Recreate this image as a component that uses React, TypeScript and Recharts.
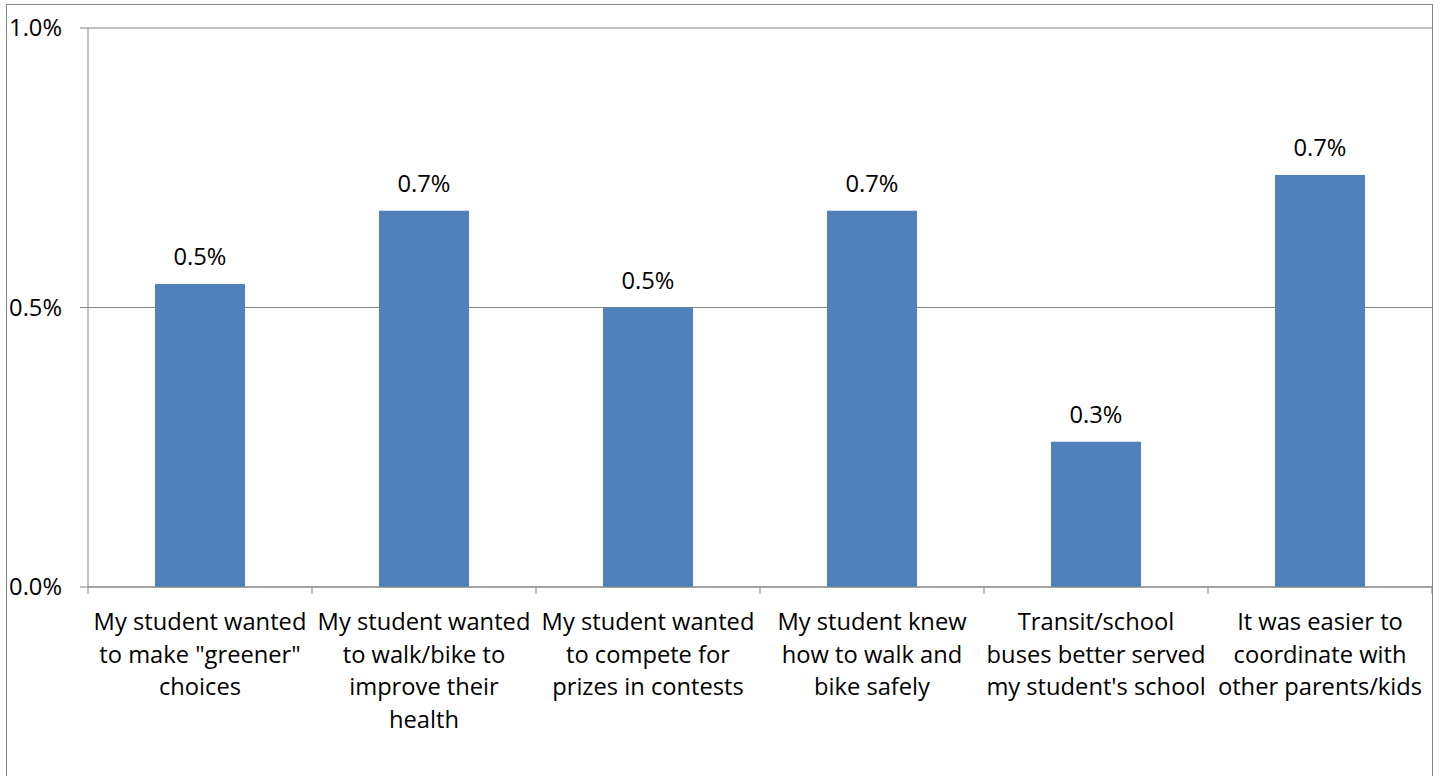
import { BarChart, Bar, XAxis, YAxis, CartesianGrid, LabelList } from 'recharts'

const categories = [
  'My student wanted\nto make "greener"\nchoices',
  'My student wanted\nto walk/bike to\nimprove their\nhealth',
  'My student wanted\nto compete for\nprizes in contests',
  'My student knew\nhow to walk and\nbike safely',
  'Transit/school\nbuses better served\nmy student\'s school',
  'It was easier to\ncoordinate with\nother parents/kids',
]

const shares = [0.542, 0.673, 0.5, 0.673, 0.26, 0.737]

const yTicks = [0, 0.5, 1]

const colors = {
  bar: '#4f81bd',
  line: '#868686',
  text: '#000000',
}

const FONT = '"Open Sans", sans-serif'
const FONT_SIZE = 23.7
const WIDTH = 1440
const HEIGHT = 776
const MARGIN = { top: 28, right: 8, bottom: 0, left: 0 }
const Y_AXIS_WIDTH = 88
const PLOT_WIDTH = WIDTH - MARGIN.left - MARGIN.right - Y_AXIS_WIDTH

const data = categories.map((name, i) => ({ name, share: shares[i] }))

function formatPct(value: number): string {
  return `${value.toFixed(1)}%`
}

function CategoryTick(props: any) {
  const { x, y, payload, index } = props
  const band = PLOT_WIDTH / categories.length
  const lines = String(payload.value).split('\n')
  const left = x - band / 2
  const right = x + band / 2
  return (
    <g>
      <line x1={left} x2={left} y1={y} y2={y + 7} stroke={colors.line} />
      {index === categories.length - 1 && (
        <line x1={right} x2={right} y1={y} y2={y + 7} stroke={colors.line} />
      )}
      <text x={x} y={y} textAnchor="middle" fill={colors.text} fontSize={FONT_SIZE} fontFamily={FONT}>
        {lines.map((line, i) => (
          <tspan key={i} x={x} y={y + 43 + i * 32.5}>
            {line}
          </tspan>
        ))}
      </text>
    </g>
  )
}

export default function App() {
  return (
    <div style={{ position: 'fixed', left: 0, top: 0, width: WIDTH, height: HEIGHT, background: '#fff', overflow: 'hidden' }}>
      <div
        style={{
          position: 'absolute',
          left: 6,
          top: 4,
          width: 1425,
          height: 800,
          borderLeft: `1px solid ${colors.line}`,
          borderTop: `1px solid ${colors.line}`,
          borderRight: `1px solid ${colors.line}`,
        }}
      />
      <div style={{ position: 'absolute', left: 0, top: 0 }}>
        <BarChart width={WIDTH} height={HEIGHT} data={data} margin={MARGIN} barSize={90}>
          <CartesianGrid vertical={false} stroke={colors.line} />
          <XAxis
            dataKey="name"
            interval={0}
            height={HEIGHT - 587}
            tickLine={false}
            tickSize={0}
            tickMargin={0}
            axisLine={{ stroke: colors.line }}
            tick={<CategoryTick />}
          />
          <YAxis
            domain={[0, 1]}
            ticks={yTicks}
            width={Y_AXIS_WIDTH}
            tickFormatter={formatPct}
            tickSize={8}
            tickMargin={18}
            axisLine={{ stroke: colors.line }}
            tickLine={{ stroke: colors.line }}
            tick={{ fill: colors.text, fontSize: FONT_SIZE, fontFamily: FONT }}
          />
          <Bar dataKey="share" fill={colors.bar} isAnimationActive={false}>
            <LabelList
              dataKey="share"
              position="top"
              offset={19}
              formatter={(v: any) => formatPct(Number(v))}
              style={{ fill: colors.text, fontSize: FONT_SIZE, fontFamily: FONT }}
            />
          </Bar>
        </BarChart>
      </div>
    </div>
  )
}
